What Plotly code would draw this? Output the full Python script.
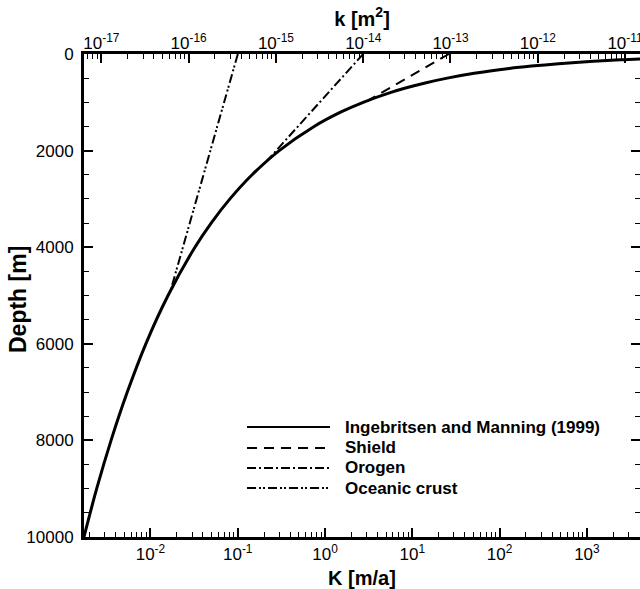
import plotly.graph_objects as go

# ---- data ----
depth_im = [90, 100, 120, 150, 200, 250, 300, 400, 500, 600, 700, 800, 1000, 1200,
            1500, 2000, 2500, 3000, 3500, 4000, 5000, 6000, 7000, 8000, 9000, 10000]
k_im = [2.22e-11, 1.58e-11, 8.85e-12, 4.34e-12, 1.73e-12, 8.44e-13, 4.71e-13, 1.87e-13,
        9.19e-14, 5.13e-14, 3.13e-14, 2.04e-14, 1.0e-14, 5.58e-15, 2.74e-15, 1.09e-15,
        5.33e-16, 2.97e-16, 1.81e-16, 1.18e-16, 5.80e-17, 3.23e-17, 1.98e-17, 1.29e-17,
        8.83e-18, 6.31e-18]

depth_shield = [0, 950]
k_shield = [9.6e-14, 1.17e-14]

depth_orogen = [0, 2200]
k_orogen = [1.0e-14, 8.0e-16]

depth_ocean = [0, 4900]
k_ocean = [3.66e-16, 6.2e-17]

K_ticks = [1e-2, 1e-1, 1e0, 1e1, 1e2, 1e3]
K_ticktext = ["10<sup>-2</sup>", "10<sup>-1</sup>", "10<sup>0</sup>", "10<sup>1</sup>",
              "10<sup>2</sup>", "10<sup>3</sup>"]
k_ticks = [1e-17, 1e-16, 1e-15, 1e-14, 1e-13, 1e-12, 1e-11]
k_ticktext = ["10<sup>-17</sup>", "10<sup>-16</sup>", "10<sup>-15</sup>", "10<sup>-14</sup>",
              "10<sup>-13</sup>", "10<sup>-12</sup>", "10<sup>-11</sup>"]
depth_ticks = [0, 2000, 4000, 6000, 8000, 10000]
depth_ticktext = ["0", "2000", "4000", "6000", "8000", "10000"]

legend_names = ["Ingebritsen and Manning (1999)", "Shield", "Orogen", "Oceanic crust"]

# ---- styling ----
FONT = "Liberation Sans, Arial, Helvetica, sans-serif"
dash_im = "solid"
dash_shield = "10px,7px"
dash_orogen = "9px,3px,2px,3px"
dash_ocean = "9px,3px,2px,2px,2px,3px"

K_minor = [m * 10.0 ** e for e in range(-3, 4) for m in range(2, 10)]
k_minor = [m * 10.0 ** e for e in range(-18, -10) for m in range(2, 10)]

fig = go.Figure()

series = [
    (k_im, depth_im, dash_im, 3),
    (k_shield, depth_shield, dash_shield, 2),
    (k_orogen, depth_orogen, dash_orogen, 2),
    (k_ocean, depth_ocean, dash_ocean, 2),
]
for name, (kx, dy, dsh, w) in zip(legend_names, series):
    fig.add_trace(go.Scatter(x=kx, y=dy, xaxis="x2", yaxis="y", mode="lines",
                             name=name, line=dict(color="black", width=w, dash=dsh,
                                                  shape="spline" if len(kx) > 2 else "linear"),
                             showlegend=False))

# dummy traces to activate the bottom and right axes
fig.add_trace(go.Scatter(x=[1], y=[5000], xaxis="x", yaxis="y", mode="markers",
                         marker=dict(opacity=0), hoverinfo="skip", showlegend=False))
fig.add_trace(go.Scatter(x=[1], y=[5000], xaxis="x", yaxis="y2", mode="markers",
                         marker=dict(opacity=0), hoverinfo="skip", showlegend=False))

common = dict(showgrid=False, zeroline=False, ticks="inside", ticklen=9, tickwidth=2,
              tickcolor="black", automargin=False, ticklabeloverflow="allow",
              tickfont=dict(family=FONT, size=17, color="black"))

fig.update_layout(
    width=640, height=589,
    margin=dict(l=84, r=0, t=54, b=52),
    plot_bgcolor="white", paper_bgcolor="white",
    font=dict(family=FONT, color="black"),
    xaxis=dict(type="log", range=[-2.761, 3.608], showline=True, linewidth=3,
               linecolor="black", tickvals=K_ticks, ticktext=K_ticktext,
               minor=dict(tickvals=K_minor, ticks="inside", ticklen=5, tickwidth=1,
                          tickcolor="black", showgrid=False),
               title=dict(text="<b>K [m/a]</b>", font=dict(size=20, family=FONT), standoff=9),
               **common),
    xaxis2=dict(type="log", range=[-17.1995, -10.828], overlaying="x", side="top",
                anchor="y", showline=True, linewidth=3, linecolor="black",
                tickvals=k_ticks, ticktext=k_ticktext, ticklabelstandoff=-5,
                minor=dict(tickvals=k_minor, ticks="inside", ticklen=5, tickwidth=1,
                           tickcolor="black", showgrid=False),
                title=dict(text="<b>k [m<sup>2</sup>]</b>", font=dict(size=20, family=FONT),
                           standoff=0),
                **common),
    yaxis=dict(range=[10000, 0], showline=True, linewidth=3, linecolor="black",
               tickvals=depth_ticks, ticktext=depth_ticktext, ticklabelstandoff=4,
               minor=dict(dtick=500, ticks="inside", ticklen=5, tickwidth=1,
                          tickcolor="black", showgrid=False),
               **common),
    yaxis2=dict(range=[10000, 0], overlaying="y", side="right", anchor="x",
                showline=False, showticklabels=False, tickvals=depth_ticks,
                minor=dict(dtick=500, ticks="inside", ticklen=5, tickwidth=1,
                           tickcolor="black", showgrid=False),
                **common),
)

# y-axis title, placed as in the reference
fig.add_annotation(xref="paper", yref="paper", x=-0.1187, y=0.4907, xanchor="center",
                   yanchor="middle", textangle=-90, text="<b>Depth [m]</b>", showarrow=False,
                   font=dict(family=FONT, size=23, color="black"))

# manual legend (line samples + labels), inside the lower right of the plot
row_y = [0.2277, 0.1843, 0.1429, 0.1014]
for (kx, dy, dsh, w), name, yy in zip(series, legend_names, row_y):
    fig.add_shape(type="line", xref="paper", yref="paper", x0=0.2932, x1=0.4424,
                  y0=yy, y1=yy, line=dict(color="black", width=2, dash=dsh))
    fig.add_annotation(xref="paper", yref="paper", x=0.4658, y=yy, xanchor="left",
                       yanchor="middle", text="<b>" + name + "</b>", showarrow=False,
                       font=dict(family=FONT, size=17, color="black"))

# let the 640x589 figure fill the 640x589 window exactly (no page margin)
fig.write_html("out.html", config={"displayModeBar": False},
               post_script="document.body.style.margin='0';"
                           "document.documentElement.style.overflow='hidden';")
